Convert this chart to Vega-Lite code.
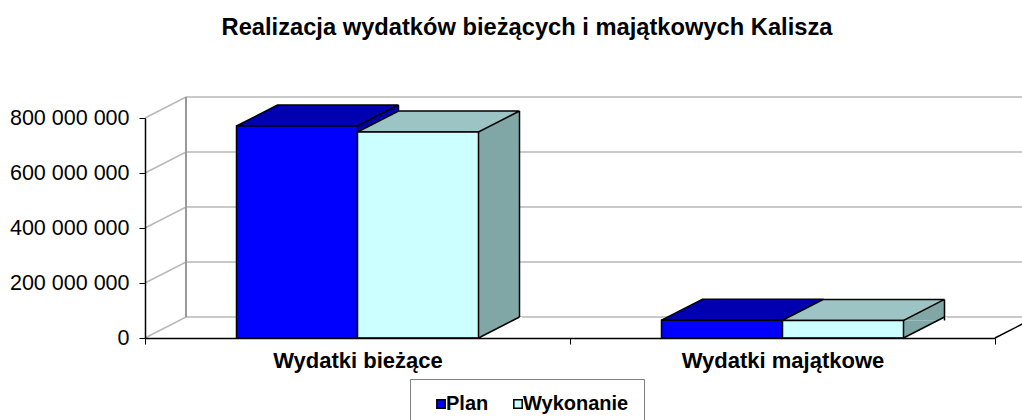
{
  "$schema": "https://vega.github.io/schema/vega-lite/v6.json",
  "width": 850,
  "height": 220,
  "autosize": {"type": "none"},
  "padding": {"left": 145, "top": 118, "right": 27, "bottom": 82},
  "background": "white",
  "title": {
    "text": "Realizacja wydatków bieżących i majątkowych Kalisza",
    "font": "Liberation Sans",
    "fontSize": 23.7,
    "fontWeight": "bold",
    "color": "black",
    "anchor": "middle",
    "frame": "group",
    "dx": -43,
    "offset": 53
  },
  "config": {
    "font": "Liberation Sans",
    "view": {"stroke": null}
  },
  "data": {
    "values": [
      {"kategoria": "Wydatki bieżące", "seria": "Plan", "wartosc": 771000000},
      {"kategoria": "Wydatki bieżące", "seria": "Wykonanie", "wartosc": 749000000},
      {"kategoria": "Wydatki majątkowe", "seria": "Plan", "wartosc": 65000000},
      {"kategoria": "Wydatki majątkowe", "seria": "Wykonanie", "wartosc": 64000000}
    ]
  },
  "layer": [
    {
      "data": {"values": [{"poziom": 0}, {"poziom": 200000000}, {"poziom": 400000000}, {"poziom": 600000000}, {"poziom": 800000000}]},
      "mark": {"type": "point", "shape": "M-212.5,0 L-171.5,-21 L678.5,-21", "size": 4, "filled": false, "stroke": "#b8b8b8", "strokeWidth": 1.5, "opacity": 1},
      "encoding": {
        "x": {"datum": "Wydatki bieżące", "type": "nominal", "title": null},
        "y": {
          "field": "poziom", "type": "quantitative", "title": null,
          "axis": {"values": [0, 200000000, 400000000, 600000000, 800000000], "labelExpr": "replace(replace(format(datum.value, ','), ',', ' '), ',', ' ')", "labelFontSize": 21.5, "labelColor": "black", "domainColor": "black", "domainWidth": 1.5, "tickColor": "black", "tickSize": 6, "labelPadding": 10, "grid": false, "zindex": 1}
        }
      }
    },
    {
      "data": {"values": [{}]},
      "mark": {"type": "point", "shape": "M-171.5,-21 L-171.5,-241", "size": 4, "filled": false, "stroke": "#999999", "strokeWidth": 2, "opacity": 1},
      "encoding": {
        "x": {"datum": "Wydatki bieżące", "type": "nominal", "title": null},
        "y": {"datum": 0, "type": "quantitative", "title": null}
      }
    },
    {
      "mark": {"type": "point", "size": 4, "filled": true, "opacity": 1, "strokeWidth": 0},
      "encoding": {
        "x": {"field": "kategoria", "type": "nominal", "title": null},
        "y": {"field": "wartosc", "type": "quantitative", "title": null},
        "shape": {"field": "seria", "type": "nominal", "legend": null, "scale": {"domain": ["Plan", "Wykonanie"], "range": ["M0,0 L41,-21 L41,0 Z", "M121,0 L162,-21 L162,0 Z"]}},
        "fill": {"field": "seria", "type": "nominal", "legend": null, "scale": {"domain": ["Plan", "Wykonanie"], "range": ["#0000B0", "#80A6A6"]}}
      }
    },
    {
      "mark": {"type": "point", "size": 4, "filled": true, "opacity": 1, "strokeWidth": 0, "clip": true},
      "encoding": {
        "x": {"field": "kategoria", "type": "nominal", "title": null},
        "y": {"field": "wartosc", "type": "quantitative", "title": null},
        "shape": {"field": "seria", "type": "nominal", "legend": null, "scale": {"domain": ["Plan", "Wykonanie"], "range": ["M0,0 L41,0 L41,400 L0,400 Z", "M121,0 L162,0 L162,400 L121,400 Z"]}},
        "fill": {"field": "seria", "type": "nominal", "legend": null, "scale": {"domain": ["Plan", "Wykonanie"], "range": ["#0000B0", "#80A6A6"]}}
      }
    },
    {
      "mark": {"type": "point", "size": 4, "filled": false, "opacity": 1, "stroke": "black", "strokeWidth": 1.5, "clip": true},
      "encoding": {
        "x": {"field": "kategoria", "type": "nominal", "title": null},
        "y": {"field": "wartosc", "type": "quantitative", "title": null},
        "shape": {"field": "seria", "type": "nominal", "legend": null, "scale": {"domain": ["Plan", "Wykonanie"], "range": ["M41,0 L41,400", "M162,0 L162,400"]}}
      }
    },
    {
      "mark": {"type": "point", "size": 4, "filled": true, "opacity": 1, "fill": "white", "strokeWidth": 0},
      "encoding": {
        "x": {"field": "kategoria", "type": "nominal", "title": null},
        "y": {"datum": 0, "type": "quantitative", "title": null},
        "shape": {"field": "seria", "type": "nominal", "legend": null, "scale": {"domain": ["Plan", "Wykonanie"], "range": ["M0,0 L41,-21 L43.5,-21 L43.5,0 Z", "M121,0 L162,-21 L164.5,-21 L164.5,0 Z"]}}
      }
    },
    {
      "mark": {"type": "point", "size": 4, "filled": false, "opacity": 1, "stroke": "black", "strokeWidth": 1.5},
      "encoding": {
        "x": {"field": "kategoria", "type": "nominal", "title": null},
        "y": {"datum": 0, "type": "quantitative", "title": null},
        "shape": {"field": "seria", "type": "nominal", "legend": null, "scale": {"domain": ["Plan", "Wykonanie"], "range": ["M0,0 L41,-21", "M121,0 L162,-21"]}}
      }
    },
    {
      "mark": {"type": "point", "size": 4, "filled": true, "opacity": 1, "stroke": "black", "strokeWidth": 1.5},
      "encoding": {
        "x": {"field": "kategoria", "type": "nominal", "title": null},
        "y": {"field": "wartosc", "type": "quantitative", "title": null},
        "shape": {"field": "seria", "type": "nominal", "legend": null, "scale": {"domain": ["Plan", "Wykonanie"], "range": ["M-121,0 L-80,-21 L41,-21 L0,0 Z M41,-21 L41,0", "M0,0 L41,-21 L162,-21 L121,0 Z M162,-21 L162,0"]}},
        "fill": {"field": "seria", "type": "nominal", "legend": null, "scale": {"domain": ["Plan", "Wykonanie"], "range": ["#0000B0", "#9CC4C4"]}}
      }
    },
    {
      "mark": {"type": "bar", "stroke": "black", "strokeWidth": 1.5},
      "encoding": {
        "x": {
          "field": "kategoria", "type": "nominal", "title": null,
          "scale": {"paddingInner": 0, "paddingOuter": 0},
          "axis": {"tickBand": "extent", "labelAngle": 0, "labelAlign": "center", "labelLimit": 500, "labelFontSize": 22, "labelFontWeight": "bold", "labelColor": "black", "domainColor": "black", "domainWidth": 1.5, "tickColor": "black", "tickWidth": 1, "tickSize": 6, "labelPadding": 16, "zindex": 1}
        },
        "xOffset": {"field": "seria", "type": "nominal", "scale": {"paddingInner": 0, "paddingOuter": 0.7562}},
        "y": {
          "field": "wartosc", "type": "quantitative", "title": null,
          "scale": {"domain": [0, 800000000], "nice": false},
          "axis": {"values": [0, 200000000, 400000000, 600000000, 800000000], "labelExpr": "replace(replace(format(datum.value, ','), ',', ' '), ',', ' ')", "labelFontSize": 21.5, "labelColor": "black", "domainColor": "black", "domainWidth": 1.5, "tickColor": "black", "tickSize": 6, "labelPadding": 10, "grid": false, "zindex": 1}
        },
        "fill": {
          "field": "seria", "type": "nominal",
          "scale": {"domain": ["Plan", "Wykonanie"], "range": ["#0000FF", "#CCFFFF"]},
          "legend": {"title": null, "orient": "none", "legendX": 265, "legendY": 261, "direction": "horizontal", "strokeColor": "#808080", "fillColor": "white", "padding": 15, "symbolType": "square", "symbolSize": 70, "symbolStrokeColor": "black", "symbolStrokeWidth": 1.5, "symbolOffset": 6, "labelOffset": -5, "labelFontSize": 20, "labelFontWeight": "bold", "labelColor": "black", "columnPadding": 13}
        }
      }
    },
    {
      "data": {"values": [{}]},
      "mark": {"type": "point", "shape": "M637.5,0 L678.5,-21", "size": 4, "filled": false, "stroke": "black", "strokeWidth": 1.5, "opacity": 1},
      "encoding": {
        "x": {"datum": "Wydatki bieżące", "type": "nominal", "title": null},
        "y": {"datum": 0, "type": "quantitative", "title": null}
      }
    }
  ],
  "resolve": {"scale": {"shape": "independent", "fill": "independent"}}
}
